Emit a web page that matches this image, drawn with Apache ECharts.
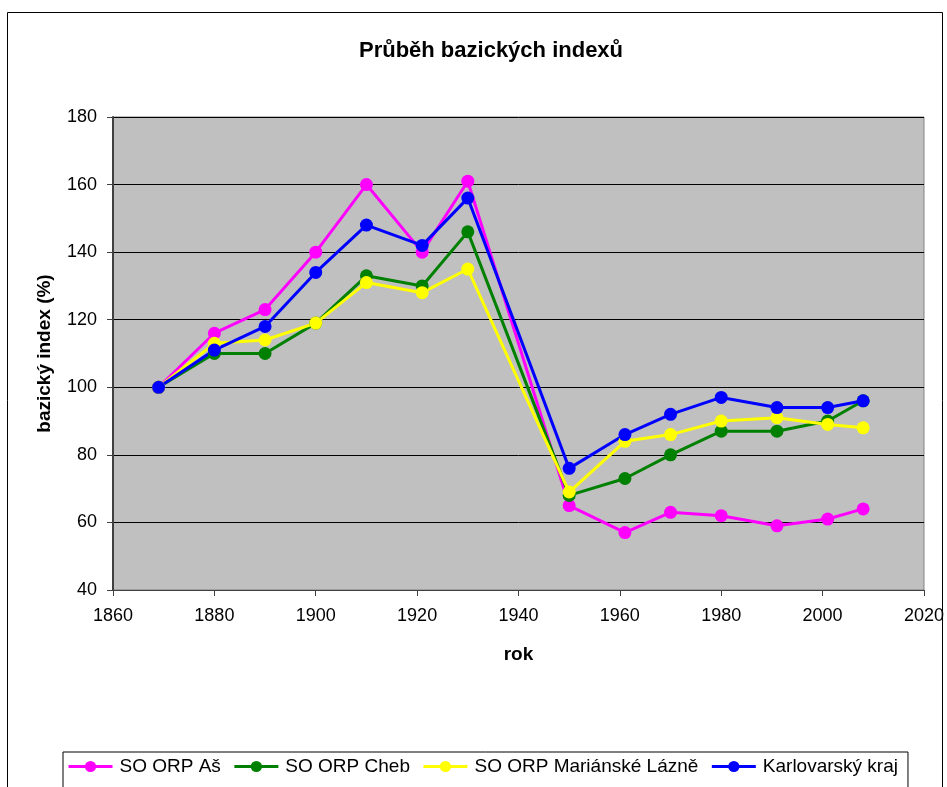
<!DOCTYPE html>
<html lang="cs">
<head>
    <meta http-equiv="content-type" content="text/html; charset=utf-8" />
    <script type="text/javascript" src="https://cdn.jsdelivr.net/npm/echarts@6/dist/echarts.min.js"></script>
    <title>Průběh bazických indexů</title>
    <style>
        html, body { margin: 0; padding: 0; background: #fff; }
        #chart { width: 947px; height: 787px; }
    </style>
</head>
<body>
<div id="chart"></div>
<script type="text/javascript">
    // roky sčítání
    var roky = [1869, 1880, 1890, 1900, 1910, 1921, 1930, 1950, 1961, 1970, 1980, 1991, 2001, 2008];
    var nazvy = ['SO ORP Aš', 'SO ORP Cheb', 'SO ORP Mariánské Lázně', 'Karlovarský kraj'];
    var barvy = ['#FF00FF', '#008000', '#FFFF00', '#0000FF'];
    var as = [100, 116, 123, 140, 160, 140, 161, 65, 57, 63, 62, 59, 61, 64];
    var cheb = [100, 110, 110, 119, 133, 130, 146, 68, 73, 80, 87, 87, 90, 96];
    var marLazne = [100, 113, 114, 119, 131, 128, 135, 69, 84, 86, 90, 91, 89, 88];
    var kraj = [100, 111, 118, 134, 148, 142, 156, 76, 86, 92, 97, 94, 94, 96];
    var hodnoty = [as, cheb, marLazne, kraj];

    var chart = echarts.init(document.getElementById('chart'));
    var font = 'Liberation Sans, Arial, sans-serif';

    var series = [];
    for (var i = 0; i < nazvy.length; i++) {
        var data = [];
        for (var j = 0; j < roky.length; j++) {
            data.push([roky[j], hodnoty[i][j]]);
        }
        series.push({
            name: nazvy[i],
            type: 'line',
            data: data,
            symbol: 'circle',
            symbolSize: 13,
            color: barvy[i],
            lineStyle: { width: 3, color: barvy[i] },
            itemStyle: { color: barvy[i] },
            animation: false
        });
    }

    chart.setOption({
        textStyle: { fontFamily: font },
        title: {
            text: 'Průběh bazických indexů',
            left: 486, top: 35, textAlign: 'center',
            textStyle: { fontSize: 22, fontWeight: 'bold', color: '#000', fontFamily: font }
        },
        graphic: [{
            type: 'rect', z: -1,
            shape: { x: 7.5, y: 12.5, width: 935, height: 800 },
            style: { fill: 'none', stroke: '#000', lineWidth: 1 }
        }],
        grid: {
            left: 113, right: 23, top: 117, bottom: 197,
            show: true, backgroundColor: '#C0C0C0', borderColor: '#808080', borderWidth: 1
        },
        legend: {
            data: nazvy,
            left: 63, top: 752,
            itemWidth: 44, itemHeight: 14, itemGap: 12,
            padding: [5, 10, 20, 4],
            borderColor: '#000', borderWidth: 1,
            lineStyle: { width: 3 },
            textStyle: { fontSize: 19, color: '#000', fontFamily: font, padding: [0, 0, 0, 2] }
        },
        xAxis: {
            type: 'value', min: 1860, max: 2020, interval: 20,
            name: 'rok', nameLocation: 'middle', nameGap: 55,
            nameTextStyle: { fontSize: 19, fontWeight: 'bold', color: '#000', fontFamily: font },
            axisLine: { show: true, lineStyle: { color: '#404040', width: 1 } },
            axisTick: { show: true, length: 6, lineStyle: { color: '#404040' } },
            axisLabel: {
                fontSize: 18, color: '#000', margin: 17, fontFamily: font,
                formatter: function (v) { return String(v); }
            },
            splitLine: { show: false }
        },
        yAxis: {
            type: 'value', min: 40, max: 180, interval: 20,
            name: 'bazický index (%)', nameLocation: 'middle', nameGap: 59,
            nameTextStyle: { fontSize: 19, fontWeight: 'bold', color: '#000', fontFamily: font },
            axisLine: { show: true, lineStyle: { color: '#404040', width: 2 } },
            axisTick: { show: true, length: 6, lineStyle: { color: '#404040' } },
            axisLabel: { fontSize: 18, color: '#000', margin: 16, fontFamily: font },
            splitLine: { show: true, lineStyle: { color: '#000', width: 1 } }
        },
        series: series
    });
</script>
</body>
</html>
